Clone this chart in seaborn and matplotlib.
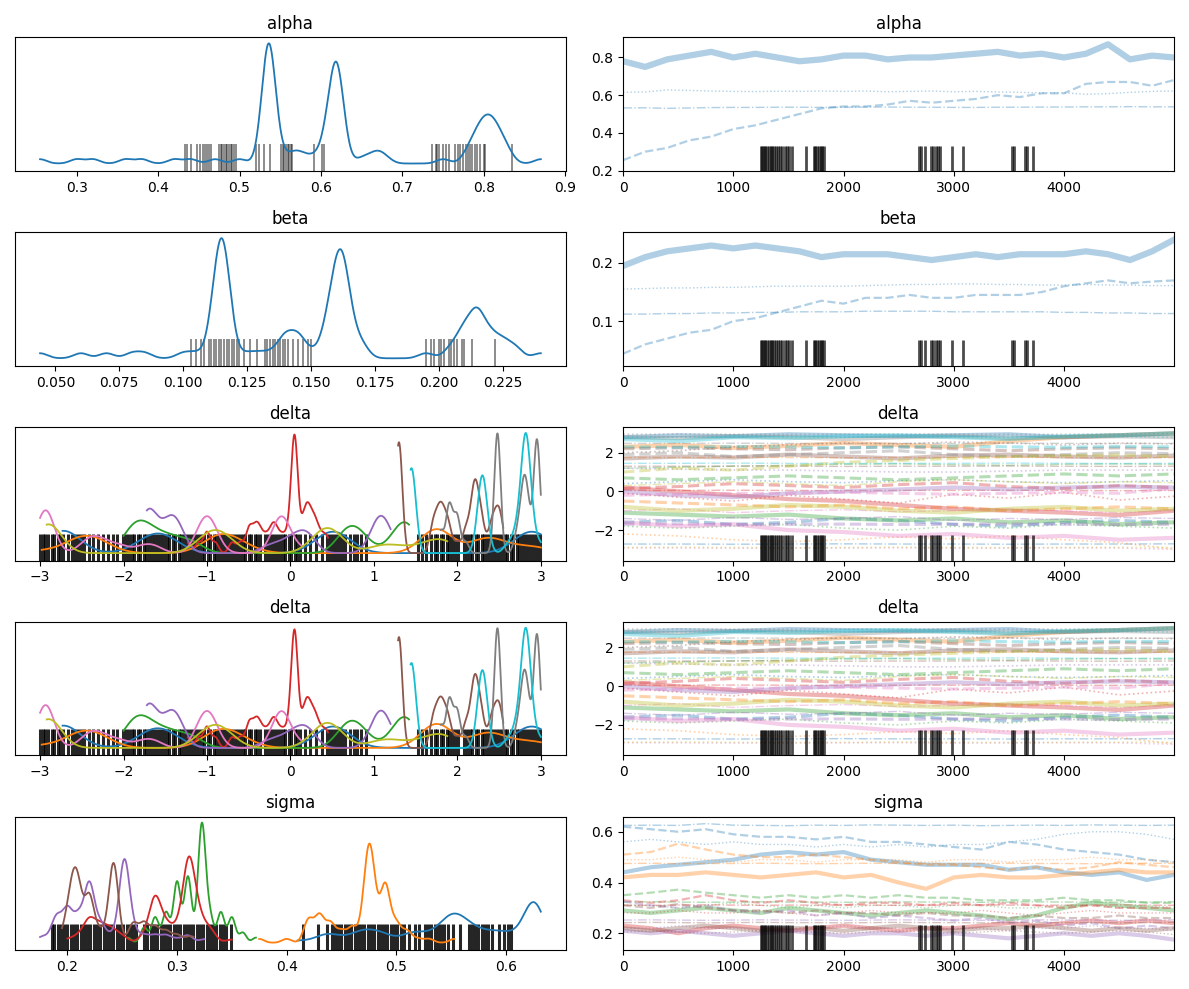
# -*- coding: utf-8 -*-
# Trace plot (kde + trace) for alpha, beta, delta, sigma, redrawn with seaborn
import numpy as np
import seaborn as sns
import matplotlib.pyplot as plt

draws_ab = [0, 200, 400, 600, 800, 1000, 1200, 1400, 1600, 1800, 2000, 2200, 2400,
            2600, 2800, 3000, 3200, 3400, 3600, 3800, 4000, 4200, 4400, 4600, 4800, 4999]
draws_sigma = [0, 250, 500, 750, 1000, 1250, 1500, 1750, 2000, 2250, 2500, 2750, 3000,
               3250, 3500, 3750, 4000, 4250, 4500, 4750, 4999]
draws_delta = [0, 500, 1000, 1500, 2000, 2500, 3000, 3500, 4000, 4500, 4999]

# divergent draws (black marks at the bottom of the trace panels)
divergent_draws = [1250, 1262, 1275, 1290, 1305, 1320, 1338, 1352, 1370, 1388, 1405,
                   1425, 1445, 1465, 1488, 1508, 1530, 1662, 1730, 1745, 1760, 1775,
                   1792, 1808, 1820, 2683, 2700, 2735, 2790, 2810, 2840, 2860, 2878,
                   2983, 3086, 3528, 3545, 3648, 3665, 3717]

# ---- alpha: 4 chains (solid, dashed, dotted, dashdot) ----
alpha_chains = [
    [0.78, 0.75, 0.79, 0.81, 0.83, 0.80, 0.82, 0.80, 0.78, 0.79, 0.81, 0.81, 0.79,
     0.80, 0.80, 0.81, 0.82, 0.83, 0.81, 0.82, 0.80, 0.82, 0.87, 0.79, 0.81, 0.80],
    [0.255, 0.30, 0.32, 0.36, 0.38, 0.42, 0.44, 0.47, 0.50, 0.53, 0.54, 0.54, 0.55,
     0.57, 0.56, 0.57, 0.58, 0.60, 0.59, 0.61, 0.61, 0.66, 0.67, 0.67, 0.65, 0.68],
    [0.615, 0.617, 0.628, 0.625, 0.622, 0.620, 0.619, 0.621, 0.620, 0.622, 0.620, 0.622, 0.618,
     0.620, 0.622, 0.618, 0.620, 0.617, 0.615, 0.612, 0.612, 0.605, 0.608, 0.615, 0.620, 0.622],
    [0.532, 0.533, 0.530, 0.532, 0.534, 0.535, 0.535, 0.536, 0.536, 0.535, 0.536, 0.537, 0.537,
     0.536, 0.536, 0.535, 0.535, 0.536, 0.536, 0.537, 0.537, 0.538, 0.538, 0.539, 0.538, 0.538],
]
alpha_rug = [0.433, 0.436, 0.440, 0.448, 0.452, 0.455, 0.458, 0.460, 0.462, 0.465, 0.475,
             0.477, 0.479, 0.481, 0.483, 0.485, 0.487, 0.489, 0.491, 0.493, 0.496, 0.520,
             0.524, 0.530, 0.538, 0.551, 0.553, 0.555, 0.557, 0.559, 0.561, 0.563, 0.565,
             0.592, 0.601, 0.604, 0.736, 0.741, 0.743, 0.745, 0.750, 0.754, 0.757, 0.765,
             0.768, 0.771, 0.775, 0.778, 0.781, 0.783, 0.786, 0.789, 0.792, 0.795, 0.800,
             0.802, 0.835]

# ---- beta ----
beta_chains = [
    [0.195, 0.21, 0.22, 0.225, 0.23, 0.225, 0.23, 0.225, 0.22, 0.21, 0.215, 0.215, 0.215,
     0.21, 0.205, 0.21, 0.215, 0.21, 0.215, 0.215, 0.215, 0.22, 0.215, 0.205, 0.22, 0.24],
    [0.044, 0.06, 0.07, 0.08, 0.085, 0.10, 0.105, 0.115, 0.125, 0.135, 0.13, 0.14, 0.14,
     0.145, 0.14, 0.14, 0.145, 0.145, 0.145, 0.15, 0.16, 0.165, 0.17, 0.165, 0.168, 0.17],
    [0.155, 0.156, 0.157, 0.157, 0.158, 0.158, 0.159, 0.160, 0.160, 0.160, 0.160, 0.161, 0.162,
     0.163, 0.163, 0.164, 0.164, 0.163, 0.163, 0.162, 0.162, 0.163, 0.162, 0.162, 0.161, 0.161],
    [0.112, 0.112, 0.113, 0.113, 0.114, 0.114, 0.115, 0.115, 0.116, 0.116, 0.116, 0.117, 0.117,
     0.117, 0.117, 0.116, 0.116, 0.116, 0.116, 0.116, 0.115, 0.115, 0.114, 0.114, 0.113, 0.113],
]
beta_rug = [0.103, 0.105, 0.107, 0.108, 0.110, 0.111, 0.112, 0.113, 0.114, 0.115, 0.116,
            0.117, 0.118, 0.119, 0.120, 0.121, 0.122, 0.124, 0.126, 0.129, 0.132, 0.133,
            0.134, 0.135, 0.136, 0.137, 0.138, 0.139, 0.140, 0.141, 0.143, 0.145, 0.147,
            0.149, 0.150, 0.195, 0.197, 0.198, 0.200, 0.201, 0.202, 0.204, 0.205, 0.206,
            0.207, 0.209, 0.210, 0.213, 0.222]

# ---- delta: 10 components x 4 chains ----
delta_c0 = [[2.8, 2.9, 2.85, 2.95, 2.9, 2.85, 2.9, 2.95, 2.8, 2.9, 3.0],
            [-1.6, -1.5, -1.7, -1.6, -1.4, -1.5, -1.7, -1.8, -1.6, -1.5, -1.6],
            [0.4, 0.5, 0.6, 0.5, 0.45, 0.55, 0.6, 0.5, 0.45, 0.5, 0.55],
            [-2.72, -2.72, -2.73, -2.72, -2.71, -2.72, -2.72, -2.73, -2.72, -2.72, -2.71]]
delta_c1 = [[2.3, 2.4, 2.25, 2.35, 2.5, 2.4, 2.3, 2.6, 2.8, 2.9, 3.0],
            [-0.5, -0.6, -0.7, -0.8, -0.7, -0.9, -0.8, -1.0, -0.9, -0.8, -0.9],
            [-2.2, -2.3, -2.5, -2.6, -2.5, -2.35, -2.45, -2.3, -2.5, -2.65, -2.98],
            [1.75, 1.75, 1.76, 1.75, 1.74, 1.75, 1.75, 1.76, 1.75, 1.74, 1.75]]
delta_c2 = [[-1.1, -1.2, -1.3, -1.2, -1.4, -1.5, -1.4, -1.6, -1.5, -1.7, -1.6],
            [0.7, 0.6, 0.7, 0.8, 0.7, 0.6, 0.7, 0.8, 0.9, 0.8, 0.9],
            [-1.8, -1.9, -1.8, -1.7, -1.9, -2.0, -1.8, -1.9, -1.7, -1.8, -1.9],
            [1.2, 1.25, 1.3, 1.35, 1.4, 1.42, 1.38, 1.35, 1.4, 1.42, 1.4]]
delta_c3 = [[0.2, 0.0, -0.2, -0.4, -0.5, -0.7, -0.9, -1.0, -1.1, -1.23, -1.0],
            [0.15, 0.25, 0.4, 0.3, 0.2, 0.35, 0.45, 0.25, 0.15, 0.3, 0.2],
            [-0.1, -0.3, -0.5, -0.2, -0.4, -0.6, -0.15, -0.35, -0.05, -0.45, -0.25],
            [0.05, 0.05, 0.06, 0.05, 0.04, 0.05, 0.05, 0.06, 0.05, 0.04, 0.05]]
delta_c4 = [[0.0, -0.2, -0.3, -0.1, 0.0, 0.1, 0.2, 0.1, 0.2, 0.25, 0.2],
            [-1.7, -1.68, -1.72, -1.7, -1.69, -1.71, -1.7, -1.68, -1.7, -1.72, -1.7],
            [1.2, 1.15, 1.1, 1.1, 1.05, 1.0, 1.0, 1.05, 1.1, 1.1, 1.1],
            [-1.4, -1.5, -1.35, -1.45, -1.4, -1.3, -1.5, -1.4, -1.45, -1.35, -1.4]]
delta_c5 = [[1.7, 1.8, 1.75, 1.9, 1.8, 1.7, 1.85, 1.9, 1.8, 1.75, 1.85],
            [2.2, 2.25, 2.2, 2.15, 2.25, 2.3, 2.2, 2.1, 2.2, 2.25, 2.2],
            [2.0, 2.1, 2.3, 2.4, 2.5, 2.45, 2.55, 2.5, 2.4, 2.5, 2.45],
            [1.3, 1.3, 1.31, 1.3, 1.29, 1.3, 1.3, 1.31, 1.3, 1.29, 1.3]]
delta_c6 = [[-1.6, -1.8, -1.7, -2.0, -2.1, -2.3, -2.2, -2.4, -2.3, -2.5, -2.4],
            [-0.2, -0.15, -0.1, -0.1, -0.05, -0.1, -0.15, -0.1, -0.05, -0.1, 0.15],
            [-2.92, -2.93, -2.94, -2.92, -2.93, -2.92, -2.94, -2.93, -2.92, -2.93, -3.0],
            [-1.0, -0.9, -1.1, -1.0, -0.95, -1.05, -1.0, -0.9, -1.0, -1.1, -1.0]]
delta_c7 = [[2.8, 2.75, 2.85, 2.8, 2.7, 2.8, 2.85, 2.75, 2.8, 2.85, 2.8],
            [1.9, 2.0, 1.8, 1.9, 2.0, 2.1, 1.9, 1.8, 1.9, 2.0, 1.95],
            [2.95, 2.96, 2.95, 2.94, 2.95, 2.96, 2.95, 2.94, 2.95, 2.96, 3.0],
            [2.48, 2.48, 2.49, 2.48, 2.47, 2.48, 2.48, 2.49, 2.48, 2.47, 2.48]]
delta_c8 = [[-0.8, -1.0, -0.9, -0.7, -0.8, -1.0, -1.1, -0.9, -0.8, -1.0, -0.9],
            [1.0, 1.2, 1.1, 1.3, 1.5, 1.6, 1.7, 1.8, 1.85, 1.88, 1.8],
            [-2.9, -2.88, -2.9, -2.92, -2.9, -2.88, -2.9, -2.91, -2.9, -2.89, -2.9],
            [0.3, 0.4, 0.5, 0.4, 0.3, 0.5, 0.6, 0.5, 0.4, 0.5, 0.45]]
delta_c9 = [[2.7, 2.6, 2.8, 2.75, 2.85, 2.9, 2.8, 2.7, 2.85, 2.9, 3.0],
            [2.3, 2.28, 2.32, 2.3, 2.25, 2.3, 2.35, 2.3, 2.28, 2.32, 2.3],
            [2.82, 2.8, 2.84, 2.82, 2.8, 2.83, 2.82, 2.81, 2.83, 2.82, 2.8],
            [1.45, 1.45, 1.46, 1.45, 1.44, 1.45, 1.45, 1.46, 1.45, 1.44, 1.45]]
delta_components = [delta_c0, delta_c1, delta_c2, delta_c3, delta_c4,
                    delta_c5, delta_c6, delta_c7, delta_c8, delta_c9]
delta_rug = [-3.0, -2.97, -2.94, -2.9, -2.86, -2.83, -2.79, -2.76, -2.73, -2.66,
             -2.62, -2.58, -2.55, -2.51, -2.47, -2.41, -2.36, -2.3, -2.25, -2.19, -2.12,
             -2.08, -2.01, -1.97, -1.94, -1.9, -1.87, -1.83, -1.8, -1.76, -1.73, -1.69,
             -1.66, -1.62, -1.59, -1.55, -1.52, -1.48, -1.45, -1.41, -1.38, -1.34, -1.31,
             -1.27, -1.24, -1.2, -1.17, -1.13, -1.1, -1.06, -1.03, -0.99, -0.96, -0.92,
             -0.89, -0.85, -0.82, -0.78, -0.75, -0.71, -0.68, -0.64, -0.61, -0.57, -0.54,
             -0.5, -0.47, -0.43, -0.4, -0.36, -0.31, -0.27, -0.23, -0.2, -0.16, -0.13,
             -0.09, -0.06, -0.02, 0.01, 0.05, 0.08, 0.12, 0.17, 0.24, 0.31, 0.38, 0.44,
             0.48, 0.51, 0.55, 0.58, 0.62, 0.65, 0.71, 0.76, 0.8, 0.85, 0.9, 1.53, 1.58,
             1.63, 1.68, 1.73, 1.76, 1.8, 1.83, 1.87, 1.9, 1.94, 1.97, 2.01, 2.08, 2.11,
             2.15, 2.18, 2.22, 2.25, 2.29, 2.32, 2.36, 2.39, 2.43, 2.46, 2.5, 2.53, 2.57,
             2.6, 2.64, 2.67, 2.71, 2.74, 2.78, 2.81, 2.85, 2.88, 2.92, 2.95, 2.99]

# ---- sigma: 6 components x 4 chains ----
sigma_c0 = [[0.44, 0.46, 0.47, 0.48, 0.49, 0.51, 0.52, 0.51, 0.52, 0.49, 0.48, 0.47, 0.47,
             0.47, 0.45, 0.46, 0.44, 0.43, 0.44, 0.41, 0.43],
            [0.62, 0.61, 0.60, 0.61, 0.59, 0.58, 0.58, 0.57, 0.58, 0.56, 0.56, 0.55, 0.54,
             0.53, 0.56, 0.55, 0.53, 0.52, 0.51, 0.49, 0.48],
            [0.56, 0.57, 0.56, 0.55, 0.56, 0.55, 0.55, 0.54, 0.55, 0.54, 0.55, 0.54, 0.55,
             0.55, 0.56, 0.57, 0.59, 0.60, 0.60, 0.59, 0.57],
            [0.625, 0.626, 0.625, 0.632, 0.626, 0.625, 0.624, 0.626, 0.625, 0.627, 0.626,
             0.625, 0.626, 0.624, 0.625, 0.626, 0.625, 0.627, 0.626, 0.625, 0.626]]
sigma_c1 = [[0.42, 0.43, 0.43, 0.44, 0.43, 0.42, 0.43, 0.44, 0.42, 0.43, 0.40, 0.375, 0.42,
             0.43, 0.42, 0.42, 0.43, 0.44, 0.45, 0.44, 0.44],
            [0.51, 0.52, 0.553, 0.53, 0.51, 0.50, 0.50, 0.51, 0.50, 0.49, 0.48, 0.47, 0.47,
             0.46, 0.45, 0.46, 0.45, 0.46, 0.48, 0.47, 0.46],
            [0.49, 0.49, 0.50, 0.49, 0.48, 0.49, 0.49, 0.48, 0.49, 0.49, 0.49, 0.48, 0.49,
             0.49, 0.48, 0.49, 0.49, 0.50, 0.49, 0.49, 0.48],
            [0.475, 0.476, 0.474, 0.475, 0.475, 0.476, 0.475, 0.474, 0.475, 0.476, 0.475,
             0.475, 0.474, 0.475, 0.476, 0.475, 0.475, 0.474, 0.475, 0.476, 0.475]]
sigma_c2 = [[0.29, 0.28, 0.29, 0.30, 0.29, 0.28, 0.30, 0.29, 0.28, 0.27, 0.28, 0.29, 0.28,
             0.27, 0.255, 0.27, 0.30, 0.32, 0.31, 0.30, 0.29],
            [0.35, 0.36, 0.372, 0.36, 0.35, 0.34, 0.35, 0.34, 0.35, 0.34, 0.35, 0.34, 0.34,
             0.33, 0.33, 0.33, 0.34, 0.33, 0.33, 0.32, 0.32],
            [0.31, 0.31, 0.30, 0.31, 0.32, 0.31, 0.30, 0.31, 0.30, 0.31, 0.31, 0.30, 0.31,
             0.31, 0.30, 0.30, 0.31, 0.31, 0.30, 0.31, 0.30],
            [0.323, 0.324, 0.323, 0.322, 0.323, 0.324, 0.323, 0.323, 0.322, 0.323, 0.324,
             0.323, 0.323, 0.322, 0.323, 0.324, 0.323, 0.323, 0.322, 0.323, 0.324]]
sigma_c3 = [[0.23, 0.22, 0.20, 0.22, 0.23, 0.22, 0.21, 0.22, 0.23, 0.22, 0.21, 0.22, 0.22,
             0.23, 0.24, 0.23, 0.24, 0.25, 0.24, 0.25, 0.24],
            [0.33, 0.32, 0.33, 0.35, 0.33, 0.32, 0.33, 0.32, 0.31, 0.32, 0.32, 0.31, 0.32,
             0.31, 0.32, 0.31, 0.30, 0.31, 0.30, 0.30, 0.30],
            [0.28, 0.28, 0.29, 0.28, 0.28, 0.29, 0.28, 0.27, 0.28, 0.29, 0.28, 0.28, 0.28,
             0.29, 0.28, 0.27, 0.28, 0.29, 0.28, 0.28, 0.28],
            [0.311, 0.310, 0.311, 0.312, 0.311, 0.310, 0.311, 0.311, 0.312, 0.311, 0.310,
             0.311, 0.311, 0.312, 0.311, 0.310, 0.311, 0.311, 0.312, 0.311, 0.310]]
sigma_c4 = [[0.21, 0.20, 0.21, 0.20, 0.19, 0.20, 0.21, 0.20, 0.19, 0.20, 0.20, 0.19, 0.20,
             0.19, 0.18, 0.19, 0.20, 0.19, 0.20, 0.19, 0.175],
            [0.325, 0.31, 0.30, 0.31, 0.29, 0.28, 0.29, 0.27, 0.28, 0.26, 0.27, 0.26, 0.25,
             0.26, 0.24, 0.25, 0.23, 0.24, 0.22, 0.23, 0.22],
            [0.22, 0.22, 0.23, 0.22, 0.22, 0.21, 0.22, 0.22, 0.23, 0.22, 0.22, 0.21, 0.22,
             0.22, 0.21, 0.22, 0.22, 0.23, 0.22, 0.22, 0.21],
            [0.252, 0.253, 0.252, 0.251, 0.252, 0.253, 0.252, 0.252, 0.251, 0.252, 0.253,
             0.252, 0.252, 0.251, 0.252, 0.253, 0.252, 0.252, 0.251, 0.252, 0.253]]
sigma_c5 = [[0.22, 0.21, 0.22, 0.23, 0.22, 0.21, 0.22, 0.22, 0.21, 0.22, 0.23, 0.22, 0.21,
             0.22, 0.22, 0.23, 0.22, 0.21, 0.22, 0.21, 0.22],
            [0.31, 0.30, 0.315, 0.30, 0.29, 0.29, 0.28, 0.29, 0.28, 0.28, 0.27, 0.28, 0.27,
             0.27, 0.26, 0.27, 0.26, 0.26, 0.27, 0.26, 0.26],
            [0.205, 0.21, 0.205, 0.20, 0.205, 0.21, 0.205, 0.205, 0.20, 0.205, 0.21, 0.205,
             0.20, 0.205, 0.21, 0.205, 0.20, 0.205, 0.21, 0.205, 0.195],
            [0.242, 0.243, 0.242, 0.241, 0.242, 0.243, 0.242, 0.242, 0.241, 0.242, 0.243,
             0.242, 0.242, 0.241, 0.242, 0.243, 0.242, 0.242, 0.241, 0.242, 0.243]]
sigma_components = [sigma_c0, sigma_c1, sigma_c2, sigma_c3, sigma_c4, sigma_c5]
sigma_rug = [0.186, 0.188, 0.191, 0.194, 0.197, 0.200, 0.203, 0.206, 0.209, 0.212, 0.215,
             0.218, 0.221, 0.224, 0.227, 0.230, 0.233, 0.236, 0.239, 0.242, 0.245, 0.248,
             0.251, 0.254, 0.257, 0.260, 0.263, 0.270, 0.273, 0.276, 0.279, 0.282, 0.285,
             0.288, 0.291, 0.294, 0.297, 0.300, 0.303, 0.306, 0.309, 0.312, 0.315, 0.318,
             0.321, 0.324, 0.327, 0.330, 0.333, 0.336, 0.339, 0.342, 0.345, 0.349, 0.415,
             0.429, 0.437, 0.441, 0.444, 0.447, 0.450, 0.453, 0.456, 0.459, 0.462, 0.465,
             0.468, 0.471, 0.474, 0.477, 0.480, 0.483, 0.486, 0.489, 0.492, 0.495, 0.498,
             0.501, 0.504, 0.507, 0.512, 0.517, 0.521, 0.526, 0.529, 0.532, 0.535, 0.538,
             0.541, 0.544, 0.547, 0.552, 0.558, 0.566, 0.569, 0.572, 0.575, 0.578, 0.581,
             0.584, 0.587, 0.594, 0.598, 0.602, 0.605]

# ---- styles ----
CHAIN_LS = ['-', '--', ':', '-.']


def plot_row(ax_kde, ax_trace, name, components, draws, rug_vals, bw, trace_ylim,
             rug_alpha, rug_lw, chain_lw):
    # left: kde of all chains per component, drawn above the rug
    for i, comp in enumerate(components):
        vals = np.concatenate([np.asarray(c, dtype=float) for c in comp])
        sns.kdeplot(x=vals, ax=ax_kde, color=f'C{i}', cut=0, bw_adjust=bw,
                    gridsize=1000, linewidth=1.3, zorder=3)
    lo, hi = ax_kde.get_ylim()
    ax_kde.set_ylim(lo - 0.06 * (hi - lo), hi)
    sns.rugplot(x=rug_vals, ax=ax_kde, height=0.2, color='black', alpha=rug_alpha,
                linewidth=rug_lw, expand_margins=False, zorder=1)
    ax_kde.set_yticks([])
    ax_kde.set_ylabel('')
    ax_kde.set_xlabel('')
    ax_kde.set_title(name)

    # right: traces, colour per component, linestyle per chain
    for i, comp in enumerate(components):
        for j, chain in enumerate(comp):
            sns.lineplot(x=draws, y=chain, ax=ax_trace, color=f'C{i}',
                         linestyle=CHAIN_LS[j], linewidth=chain_lw[j], alpha=0.35)
    ax_trace.set_xlim(0, 4999)
    ax_trace.set_ylim(*trace_ylim)
    sns.rugplot(x=divergent_draws, ax=ax_trace, height=0.19, color='black', alpha=0.7,
                linewidth=2.0, expand_margins=False)
    ax_trace.set_ylabel('')
    ax_trace.set_xlabel('')
    ax_trace.set_title(name)


fig, axes = plt.subplots(5, 2, figsize=(11.89, 9.89), dpi=100)

plot_row(axes[0, 0], axes[0, 1], 'alpha', [alpha_chains], draws_ab, alpha_rug,
         0.16, (0.197, 0.907), 0.45, 1.4, [4.5, 1.6, 1.0, 1.0])
plot_row(axes[1, 0], axes[1, 1], 'beta', [beta_chains], draws_ab, beta_rug,
         0.17, (0.023, 0.253), 0.45, 1.4, [4.5, 1.6, 1.0, 1.0])
plot_row(axes[2, 0], axes[2, 1], 'delta', delta_components, draws_delta, delta_rug,
         0.2, (-3.58, 3.33), 0.85, 2.2, [3.0, 2.2, 1.2, 1.0])
plot_row(axes[3, 0], axes[3, 1], 'delta', delta_components, draws_delta, delta_rug,
         0.2, (-3.58, 3.33), 0.85, 2.2, [3.0, 2.2, 1.2, 1.0])
plot_row(axes[4, 0], axes[4, 1], 'sigma', sigma_components, draws_sigma, sigma_rug,
         0.35, (0.133, 0.66), 0.85, 2.2, [3.0, 1.6, 1.0, 1.0])

fig.tight_layout()
fig.savefig('out.png', dpi=100)
